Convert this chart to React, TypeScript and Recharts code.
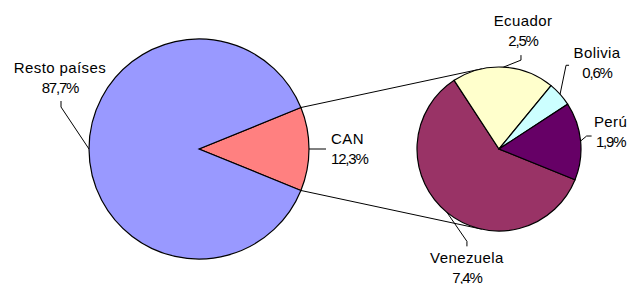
import { PieChart, Pie, Cell, Customized } from 'recharts';

// main pie
const mainNames = ['CAN', 'Resto países'];
const mainValues = [12.3, 87.7];
// breakdown of CAN
const canNames = ['Venezuela', 'Ecuador', 'Bolivia', 'Perú'];
const canValues = [7.4, 2.5, 0.6, 1.9];

const mainColors = ['#FF8080', '#9999FF'];
const canColors = ['#993366', '#FFFFCC', '#CCFFFF', '#660066'];

const W = 630;
const H = 284;
const MAIN = { cx: 199, cy: 149, r: 110 };
const SUB = { cx: 499, cy: 149, r: 82 };
const RAD = Math.PI / 180;
const FONT = '"Liberation Sans", Arial, sans-serif';

// label placement relative to the slice's edge point: text anchor + leader elbow points
const labelLayout: Record<string, { dx: number; dy: number; anchor: 'start' | 'middle'; leader: number[][] }> = {
  'Resto países': { dx: -29, dy: -76, anchor: 'middle', leader: [[-28, -48], [-28, -42]] },
  CAN: { dx: 22, dy: -5, anchor: 'start', leader: [[17, 0]] },
  Ecuador: { dx: 19.5, dy: -41, anchor: 'middle', leader: [[17.5, -12], [17.5, -7]] },
  Bolivia: { dx: 37, dy: -36, anchor: 'middle', leader: [[9, -29], [6, -29]] },
  'Perú': { dx: 30, dy: -14, anchor: 'middle', leader: [[11, -5], [6, -5]] },
  Venezuela: { dx: 20, dy: 51, anchor: 'middle', leader: [[20, 34], [20, 29]] },
};

const mainData = mainNames.map((name, i) => ({ name, value: mainValues[i] }));
const canData = canNames.map((name, i) => ({ name, value: canValues[i] }));

const fmt = (v: number) => v.toFixed(1).replace('.', ',') + '%';

const renderLabel = (props: any) => {
  const { cx, cy, midAngle, outerRadius, name, value } = props;
  const lay = labelLayout[name];
  if (!lay) return null;
  const ex = cx + outerRadius * Math.cos(-midAngle * RAD);
  const ey = cy + outerRadius * Math.sin(-midAngle * RAD);
  const pts = [...lay.leader.map(([x, y]) => [ex + x, ey + y]), [ex, ey]];
  const d = pts.map((p, i) => (i === 0 ? 'M' : 'L') + p[0] + ',' + p[1]).join(' ');
  const tx = ex + lay.dx;
  const ty = ey + lay.dy;
  return (
    <g key={name}>
      <path d={d} stroke="#000" strokeWidth={1} fill="none" />
      <text x={tx} y={ty} textAnchor={lay.anchor} fontFamily={FONT} fontSize={15} letterSpacing={0.4} fill="#000">
        {name}
      </text>
      <text x={tx} y={ty + 20} textAnchor={lay.anchor} fontFamily={FONT} fontSize={15} letterSpacing={-1.2} fill="#000">
        {fmt(value)}
      </text>
    </g>
  );
};

// tangent point from external point p to circle c
const tangent = (px: number, py: number, side: number) => {
  const vx = SUB.cx - px;
  const vy = SUB.cy - py;
  const d = Math.hypot(vx, vy);
  const a = Math.asin(SUB.r / d) * side;
  const L = Math.sqrt(d * d - SUB.r * SUB.r);
  const base = Math.atan2(vy, vx);
  return [px + L * Math.cos(base + a), py + L * Math.sin(base + a)];
};

const SeriesLines = () => {
  const half = (mainValues[0] / 100) * 180;
  const top = [MAIN.cx + MAIN.r * Math.cos(half * RAD), MAIN.cy - MAIN.r * Math.sin(half * RAD)];
  const bot = [MAIN.cx + MAIN.r * Math.cos(half * RAD), MAIN.cy + MAIN.r * Math.sin(half * RAD)];
  const t1 = tangent(top[0], top[1], -1);
  const t2 = tangent(bot[0], bot[1], 1);
  return (
    <g>
      <line x1={top[0]} y1={top[1]} x2={t1[0]} y2={t1[1]} stroke="#000" strokeWidth={1} />
      <line x1={bot[0]} y1={bot[1]} x2={t2[0]} y2={t2[1]} stroke="#000" strokeWidth={1} />
    </g>
  );
};

export default function App() {
  const start = -(mainValues[0] / 100) * 180;
  return (
    <div style={{ position: 'fixed', left: 0, top: 0, width: W, height: H, background: '#fff' }}>
      <PieChart width={W} height={H} margin={{ top: 0, right: 0, bottom: 0, left: 0 }}>
        <Customized component={<SeriesLines />} />
        <Pie
          data={mainData}
          dataKey="value"
          nameKey="name"
          cx={MAIN.cx}
          cy={MAIN.cy}
          outerRadius={MAIN.r}
          startAngle={start}
          endAngle={start + 360}
          stroke="#000"
          strokeWidth={1.2}
          label={renderLabel}
          labelLine={false}
          isAnimationActive={false}
        >
          {mainData.map((d, i) => (
            <Cell key={d.name} fill={mainColors[i]} />
          ))}
        </Pie>
        <Pie
          data={canData}
          dataKey="value"
          nameKey="name"
          cx={SUB.cx}
          cy={SUB.cy}
          outerRadius={SUB.r}
          startAngle={-22}
          endAngle={-382}
          stroke="#000"
          strokeWidth={1.2}
          label={renderLabel}
          labelLine={false}
          isAnimationActive={false}
        >
          {canData.map((d, i) => (
            <Cell key={d.name} fill={canColors[i]} />
          ))}
        </Pie>
      </PieChart>
    </div>
  );
}
